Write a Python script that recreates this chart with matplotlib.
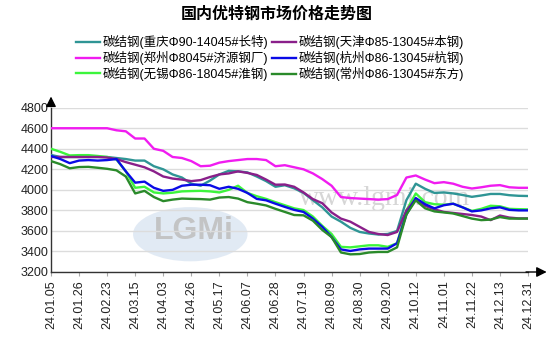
import numpy as np
import matplotlib.pyplot as plt
from matplotlib.patches import Ellipse

plt.rcParams['font.family'] = ['Liberation Sans', 'Noto Sans CJK SC', 'DejaVu Sans']

# trading-day index, sampled weekly
day_idx = np.arange(0, 256, 5)
tick_labels = ["24.01.05", "24.01.26", "24.02.23", "24.03.15", "24.04.03", "24.04.26",
               "24.05.17", "24.06.07", "24.06.28", "24.07.19", "24.08.09", "24.08.30",
               "24.09.20", "24.10.12", "24.11.01", "24.11.22", "24.12.13", "24.12.31"]

chongqing = [4340, 4320, 4320, 4320, 4320, 4320, 4320, 4310, 4300, 4285,
             4285, 4230, 4200, 4150, 4120, 4060, 4040, 4090, 4150, 4185,
             4180, 4170, 4130, 4085, 4030, 4045, 4015, 3970, 3900, 3830,
             3740, 3690, 3630, 3590, 3575, 3565, 3570, 3600, 3900, 4060,
             4010, 3970, 3975, 3965, 3950, 3932, 3945, 3960, 3960, 3948,
             3942, 3940]
zhengzhou = [4600, 4600, 4600, 4600, 4600, 4600, 4600, 4580, 4570, 4500,
             4500, 4400, 4380, 4320, 4310, 4280, 4230, 4235, 4265, 4280,
             4290, 4300, 4300, 4290, 4230, 4240, 4220, 4200, 4160, 4105,
             4040, 3930, 3920, 3915, 3910, 3905, 3910, 3950, 4120, 4140,
             4100, 4065, 4075, 4060, 4030, 4013, 4025, 4040, 4046, 4025,
             4020, 4020]
wuxi = [4400, 4370, 4335, 4338, 4338, 4330, 4320, 4295, 4180, 4020,
        4030, 3975, 3965, 3972, 3985, 3988, 3990, 3985, 3975, 4000,
        4040, 3970, 3938, 3912, 3880, 3850, 3820, 3803, 3740, 3650,
        3570, 3445, 3440, 3450, 3460, 3460, 3445, 3480, 3800, 3965,
        3880, 3860, 3855, 3865, 3830, 3795, 3815, 3845, 3840, 3815,
        3812, 3810]
tianjin = [4320, 4320, 4320, 4320, 4320, 4320, 4315, 4300, 4270, 4245,
           4220, 4180, 4130, 4110, 4100, 4085, 4095, 4125, 4150, 4160,
           4180, 4165, 4145, 4100, 4050, 4052, 4030, 3975, 3910, 3870,
           3780, 3720, 3690, 3640, 3590, 3570, 3560, 3590, 3800, 3910,
           3845, 3810, 3785, 3775, 3765, 3755, 3740, 3705, 3750, 3730,
           3722, 3722]
hangzhou = [4330, 4300, 4260, 4285, 4290, 4285, 4290, 4300, 4180, 4070,
            4080, 4020, 3990, 4000, 4040, 4050, 4050, 4045, 4010, 4030,
            4010, 3970, 3912, 3898, 3865, 3834, 3805, 3785, 3720, 3640,
            3540, 3420, 3405, 3420, 3428, 3428, 3428, 3480, 3760, 3920,
            3860, 3820, 3850, 3865, 3830, 3790, 3800, 3820, 3830, 3805,
            3800, 3800]
changzhou = [4280, 4250, 4210, 4222, 4224, 4215, 4205, 4190, 4130, 3965,
             3990, 3930, 3890, 3905, 3915, 3912, 3910, 3905, 3925, 3930,
             3915, 3880, 3865, 3848, 3815, 3785, 3755, 3752, 3700, 3610,
             3540, 3390, 3372, 3375, 3390, 3395, 3395, 3440, 3760, 3898,
             3820, 3790, 3780, 3770, 3745, 3720, 3705, 3710, 3735, 3720,
             3720, 3720]

series = [
    ("碳结钢(重庆Φ90-14045#长特)", chongqing, "#2f9595"),
    ("碳结钢(郑州Φ8045#济源钢厂)", zhengzhou, "#f01cf0"),
    ("碳结钢(无锡Φ86-18045#淮钢)", wuxi, "#3cf53c"),
    ("碳结钢(天津Φ85-13045#本钢)", tianjin, "#8a1f8a"),
    ("碳结钢(杭州Φ86-13045#杭钢)", hangzhou, "#0a0ae6"),
    ("碳结钢(常州Φ86-13045#东方)", changzhou, "#2a8a2a"),
]

fig = plt.figure(figsize=(5.54, 3.5), dpi=100)
ax = fig.add_axes([51 / 554, 78 / 350, 477 / 554, 164.3 / 350])

# faint site watermark
ax.add_patch(Ellipse((0.292, 0.23), 0.24, 0.33, transform=ax.transAxes,
                     facecolor="#c5d6ea", edgecolor="none", alpha=0.5, zorder=0))
ax.text(0.30, 0.25, "LGMi", transform=ax.transAxes, ha="center", va="center",
        fontsize=23, fontweight="bold", color="#c0c0c0", alpha=0.9, zorder=0)
ax.text(0.70, 0.45, "www.lgmi.com", transform=ax.transAxes, ha="center", va="center",
        fontsize=20, family="Liberation Serif", color="#d6d6d6", zorder=0)

for name, vals, col in series:
    ax.plot(day_idx, vals, color=col, lw=1.7, label=name, zorder=3)

ax.set_xlim(0, 255)
ax.set_ylim(3200, 4800)
ax.set_yticks(np.arange(3200, 4801, 200))
ax.set_xticks(np.arange(0, 256, 15))
ax.set_xticklabels(tick_labels, rotation=90, fontsize=9, color="#222222")
ax.tick_params(axis="y", length=0, pad=2, labelsize=9, labelcolor="#222222")
ax.tick_params(axis="x", length=3, width=0.8, color="#aaaaaa", pad=3)
ax.grid(axis="y", color="#dcdcdc", lw=1)
ax.set_axisbelow(True)

for s in ["top", "right"]:
    ax.spines[s].set_visible(False)
for s in ["left", "bottom"]:
    ax.spines[s].set_color("#333333")
    ax.spines[s].set_linewidth(1)

# axis arrows
ax.annotate("", xy=(0, 1.085), xytext=(0, 0.99), xycoords="axes fraction",
            arrowprops=dict(arrowstyle="-|>,head_length=0.6,head_width=0.3",
                            color="black", lw=1), annotation_clip=False)
ax.annotate("", xy=(1.045, 0), xytext=(0.99, 0), xycoords="axes fraction",
            arrowprops=dict(arrowstyle="-|>,head_length=0.6,head_width=0.3",
                            color="black", lw=1), annotation_clip=False)

fig.text(0.5, 0.962, "国内优特钢市场价格走势图", ha="center", va="center",
         fontsize=11.5, fontweight="bold", family="Noto Sans CJK SC")

fig.legend(loc="upper center", bbox_to_anchor=(0.487, 0.9), ncol=2, frameon=False,
           fontsize=9, handlelength=1.95, handletextpad=0.2, columnspacing=0.3,
           labelspacing=0.15, borderaxespad=0, borderpad=0)

fig.savefig("out.png", dpi=100)
